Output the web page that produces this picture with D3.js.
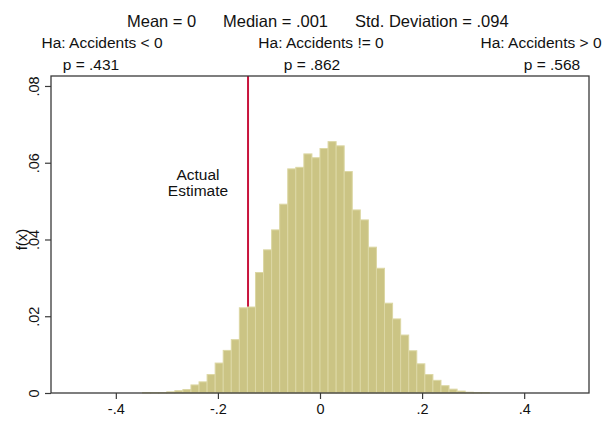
<!DOCTYPE html>
<html>
<head>
<meta charset="utf-8">
<script src="https://cdn.jsdelivr.net/npm/d3@7/dist/d3.min.js"></script>
<style>
  html, body { margin: 0; padding: 0; background: #fff; }
  svg text { font-family: "Liberation Sans", Arial, sans-serif; fill: #111; }
</style>
</head>
<body>
<div id="chart"></div>
<script>
// histogram of simulated estimates (density per bin)
const binStart = -0.3476;
const binWidth = 0.0158;
const densities = [
  0.0001, 0.0001, 0.0001, 0.0003, 0.0006, 0.0009, 0.0021, 0.0029, 0.0048, 0.0078,
  0.0111, 0.0139, 0.0222, 0.0224, 0.0314, 0.0373, 0.0425, 0.0492, 0.0584, 0.0588,
  0.0623, 0.0613, 0.0637, 0.0655, 0.0644, 0.0577, 0.0477, 0.0451, 0.0380, 0.0325,
  0.0234, 0.0193, 0.0151, 0.0110, 0.0076, 0.0048, 0.0033, 0.0019, 0.0010, 0.0005,
  0.0002, 0.0001, 0.0001
];
const actualEstimate = -0.141;
const xTicks = [-0.4, -0.2, 0, 0.2, 0.4];
const yTicks = [0, 0.02, 0.04, 0.06, 0.08];
const titleParts = ["Mean = 0", "Median = .001", "Std. Deviation = .094"];
const haLabels = ["Ha: Accidents < 0", "Ha: Accidents != 0", "Ha: Accidents > 0"];
const pLabels = ["p = .431", "p = .862", "p = .568"];

const width = 610, height = 421;
const margin = { top: 76, right: 21, bottom: 28, left: 51 };

const svg = d3.select('#chart').append('svg')
  .attr('width', width)
  .attr('height', height);

const x = d3.scaleLinear().domain([-0.527, 0.527]).range([margin.left, width - margin.right]);
const y = d3.scaleLinear().domain([0, 0.0826]).range([height - margin.bottom, margin.top]);

// Stata-style number format: drop the leading zero
const fmt = d => d === 0 ? '0' : String(d).replace(/^(-?)0\./, '$1.');

// reference line for the actual estimate (behind the bars)
svg.append('line')
  .attr('x1', x(actualEstimate)).attr('x2', x(actualEstimate))
  .attr('y1', y.range()[1]).attr('y2', y.range()[0])
  .attr('stroke', '#c8143c')
  .attr('stroke-width', 2);

// bars
svg.append('g')
  .selectAll('rect')
  .data(densities)
  .enter()
  .append('rect')
  .attr('x', (d, i) => x(binStart + i * binWidth))
  .attr('width', x(binWidth) - x(0))
  .attr('y', d => y(d))
  .attr('height', d => y(0) - y(d))
  .attr('fill', '#cbc484')
  .attr('stroke', '#dcd7a4')
  .attr('stroke-width', 1);

// plot frame
svg.append('rect')
  .attr('x', x.range()[0]).attr('y', y.range()[1])
  .attr('width', x.range()[1] - x.range()[0])
  .attr('height', y.range()[0] - y.range()[1])
  .attr('fill', 'none')
  .attr('stroke', '#3a3a3a')
  .attr('stroke-width', 1.3);

// x axis
const xAxis = svg.append('g')
  .attr('transform', `translate(0,${y(0)})`)
  .call(d3.axisBottom(x).tickValues(xTicks).tickFormat(fmt).tickSize(6).tickPadding(5));
xAxis.select('.domain').remove();
xAxis.selectAll('line').attr('stroke', '#3a3a3a').attr('stroke-width', 1.2);
xAxis.selectAll('text')
  .style('font-size', '14.5px')
  .style('font-family', '"Liberation Sans", Arial, sans-serif')
  .attr('fill', '#111');

// y axis
const yAxis = svg.append('g')
  .attr('transform', `translate(${x.range()[0]},0)`)
  .call(d3.axisLeft(y).tickValues(yTicks).tickFormat(fmt).tickSize(6));
yAxis.select('.domain').remove();
yAxis.selectAll('line').attr('stroke', '#3a3a3a').attr('stroke-width', 1.2);
yAxis.selectAll('text')
  .attr('x', 0).attr('dy', null)
  .attr('transform', 'translate(-12,0) rotate(-90)')
  .attr('text-anchor', 'middle')
  .style('font-size', '14.5px')
  .style('font-family', '"Liberation Sans", Arial, sans-serif')
  .attr('fill', '#111');

// y axis title
svg.append('text')
  .attr('transform', `translate(27,${(y.range()[0] + y.range()[1]) / 2 + 5}) rotate(-90)`)
  .attr('text-anchor', 'middle')
  .style('font-size', '15px')
  .text('f(x)');

// label for the reference line
const note = svg.append('text')
  .attr('text-anchor', 'middle')
  .style('font-size', '15.5px');
note.append('tspan').attr('x', 198).attr('y', 180).text('Actual');
note.append('tspan').attr('x', 198).attr('y', 196).text('Estimate');

// title: three statistics spread along the top line
const titleX = [127, 223, 355];
svg.selectAll('.ttl')
  .data(titleParts)
  .enter()
  .append('text')
  .attr('class', 'ttl')
  .attr('x', (d, i) => titleX[i]).attr('y', 27)
  .style('font-size', '16.5px')
  .text(d => d);

const haX = [102, 321, 541];
const pX = [91, 312, 552];
svg.selectAll('.ha')
  .data(haLabels)
  .enter()
  .append('text')
  .attr('class', 'ha')
  .attr('x', (d, i) => haX[i]).attr('y', 48)
  .attr('text-anchor', 'middle')
  .style('font-size', '15.5px')
  .text(d => d);

svg.selectAll('.pv')
  .data(pLabels)
  .enter()
  .append('text')
  .attr('class', 'pv')
  .attr('x', (d, i) => pX[i]).attr('y', 70)
  .attr('text-anchor', 'middle')
  .style('font-size', '15.5px')
  .text(d => d);
</script>
</body>
</html>
